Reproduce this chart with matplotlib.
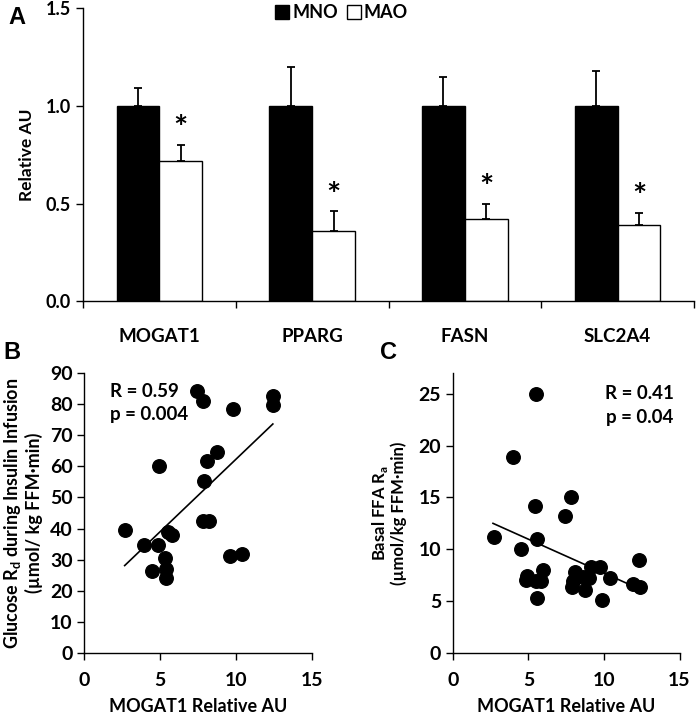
import numpy as np
import matplotlib
matplotlib.use('Agg')
import matplotlib.pyplot as plt
from matplotlib.patches import Patch

plt.rcParams['font.family'] = ['Lato', 'DejaVu Sans']
plt.rcParams['font.weight'] = 'bold'
plt.rcParams['axes.labelweight'] = 'bold'
plt.rcParams['mathtext.fontset'] = 'custom'
plt.rcParams['mathtext.rm'] = 'Lato:bold'
plt.rcParams['axes.linewidth'] = 1.0

# Panel A data
genes = ['MOGAT1', 'PPARG', 'FASN', 'SLC2A4']
mno_mean = [1.0, 1.0, 1.0, 1.0]
mno_err = [0.09, 0.20, 0.15, 0.18]
mao_mean = [0.72, 0.36, 0.42, 0.39]
mao_err = [0.08, 0.10, 0.08, 0.06]

# Panel B data
b_x = [2.65, 3.93, 4.85, 4.48, 4.92, 5.29, 5.40, 5.40, 5.50, 5.80, 7.43,
       7.83, 7.88, 8.05, 8.71, 7.79, 8.23, 9.82, 9.60, 10.37, 12.42, 12.42]
b_y = [39.6, 34.8, 34.8, 26.3, 60.2, 30.5, 27.0, 24.1, 38.8, 38.0, 84.3,
       81.1, 55.2, 61.8, 64.6, 42.3, 42.3, 78.5, 31.3, 31.9, 82.5, 79.8]
b_fit_x = [2.65, 12.42]
b_fit_y = [28.1, 73.6]

# Panel C data
c_x = [5.47, 3.97, 5.45, 7.79, 7.43, 2.69, 5.56, 4.48, 12.35, 4.90, 4.81,
       5.51, 5.85, 5.96, 5.56, 8.05, 7.94, 7.90, 8.71, 8.60, 9.15, 9.71,
       9.04, 10.37, 9.86, 11.90, 12.40]
c_y = [25.0, 18.9, 14.2, 15.0, 13.2, 11.15, 10.95, 10.0, 9.0, 7.4, 7.0,
       6.96, 6.96, 8.0, 5.3, 7.8, 6.9, 6.4, 6.05, 7.35, 8.25, 8.25,
       7.2, 7.2, 5.1, 6.7, 6.4]
c_fit_x = [2.65, 12.0]
c_fit_y = [12.5, 6.4]

fig = plt.figure(figsize=(6.97, 7.16), dpi=100)

# ---------- Panel A ----------
axA = fig.add_axes([0.1191, 0.5791, 0.8766, 0.4093])
x = np.arange(len(genes))
w = 0.28
ekw = dict(ecolor='black', elinewidth=1.3, capsize=3.2, capthick=1.3)
axA.bar(x - w / 2, mno_mean, w, color='black', edgecolor='black', linewidth=1.0,
        yerr=[np.zeros(4), mno_err], error_kw=ekw)
axA.bar(x + w / 2, mao_mean, w, color='white', edgecolor='black', linewidth=1.0,
        yerr=[np.zeros(4), mao_err], error_kw=ekw)
for i in range(len(genes)):
    axA.text(x[i] + w / 2, mao_mean[i] + mao_err[i] + 0.005, '*', ha='center', va='bottom',
             fontsize=24, fontweight='bold')

axA.set_xlim(-0.5, 3.5)
axA.set_ylim(0, 1.5)
axA.set_yticks([0, 0.5, 1.0, 1.5])
axA.set_yticklabels(['0.0', '0.5', '1.0', '1.5'], fontsize=13, fontweight='bold')
axA.set_xticks(np.arange(-0.5, 4, 1))
axA.set_xticklabels([])
axA.set_xticks(x, minor=True)
axA.set_xticklabels(genes, minor=True, fontsize=13.5, fontweight='bold')
axA.tick_params(axis='x', which='minor', length=0, pad=19)
axA.tick_params(axis='both', which='major', direction='out', length=5, width=1.0)
axA.set_ylabel('Relative AU', fontsize=12.5, labelpad=8)
for s in ['top', 'right']:
    axA.spines[s].set_visible(False)

handles = [Patch(facecolor='black', edgecolor='black', label='MNO'),
           Patch(facecolor='white', edgecolor='black', label='MAO')]
fig.legend(handles=handles, loc='center', bbox_to_anchor=(0.49, 0.982), ncol=2, frameon=False,
           prop={'size': 13, 'weight': 'bold'}, handlelength=0.8, handleheight=0.8,
           handletextpad=0.15, columnspacing=0.5)

# ---------- Panel B ----------
axB = fig.add_axes([0.1212, 0.0880, 0.3264, 0.3911])
axB.scatter(b_x, b_y, s=95, color='black', zorder=3)
axB.plot(b_fit_x, b_fit_y, color='black', linewidth=1.2)
axB.set_xlim(0, 15)
axB.set_ylim(0, 90)
axB.set_xticks([0, 5, 10, 15])
axB.set_yticks(np.arange(0, 91, 10))
axB.tick_params(axis='both', direction='out', length=5, width=1.0, labelsize=14)
axB.tick_params(axis='x', pad=9)
for lab in axB.get_xticklabels() + axB.get_yticklabels():
    lab.set_fontweight('bold')
axB.set_xlabel('MOGAT1 Relative AU', fontsize=13, labelpad=6)
axB.set_ylabel('Glucose R$_\\mathregular{d}$ during Insulin Infusion\n(\u00b5mol/ kg FFM\u00b7min)',
               fontsize=13, labelpad=5, linespacing=1.1)
axB.text(1.7, 84, 'R = 0.59', fontsize=13.5, va='center', fontweight='bold')
axB.text(1.7, 76.5, 'p = 0.004', fontsize=13.5, va='center', fontweight='bold')
for s in ['top', 'right']:
    axB.spines[s].set_visible(False)

# ---------- Panel C ----------
axC = fig.add_axes([0.6499, 0.0880, 0.3250, 0.3911])
axC.scatter(c_x, c_y, s=95, color='black', zorder=3)
axC.plot(c_fit_x, c_fit_y, color='black', linewidth=1.2)
axC.set_xlim(0, 15)
axC.set_ylim(0, 27)
axC.set_xticks([0, 5, 10, 15])
axC.set_yticks(np.arange(0, 26, 5))
axC.tick_params(axis='both', direction='out', length=5, width=1.0, labelsize=14)
axC.tick_params(axis='x', pad=9)
for lab in axC.get_xticklabels() + axC.get_yticklabels():
    lab.set_fontweight('bold')
axC.set_xlabel('MOGAT1 Relative AU', fontsize=13, labelpad=6)
axC.set_ylabel('Basal FFA R$_\\mathregular{a}$\n(\u00b5mol/kg FFM\u00b7min)',
               fontsize=12, labelpad=8, linespacing=1.1)
axC.text(14.6, 25, 'R = 0.41', fontsize=13.5, va='center', ha='right', fontweight='bold')
axC.text(14.6, 22.7, 'p = 0.04', fontsize=13.5, va='center', ha='right', fontweight='bold')
for s in ['top', 'right']:
    axC.spines[s].set_visible(False)

# panel letters
fig.text(0.012, 0.975, 'A', fontsize=17, fontweight='bold', family='Liberation Sans', va='center')
fig.text(0.005, 0.508, 'B', fontsize=17, fontweight='bold', family='Liberation Sans', va='center')
fig.text(0.545, 0.508, 'C', fontsize=17, fontweight='bold', family='Liberation Sans', va='center')

fig.savefig('out.png', dpi=100)
